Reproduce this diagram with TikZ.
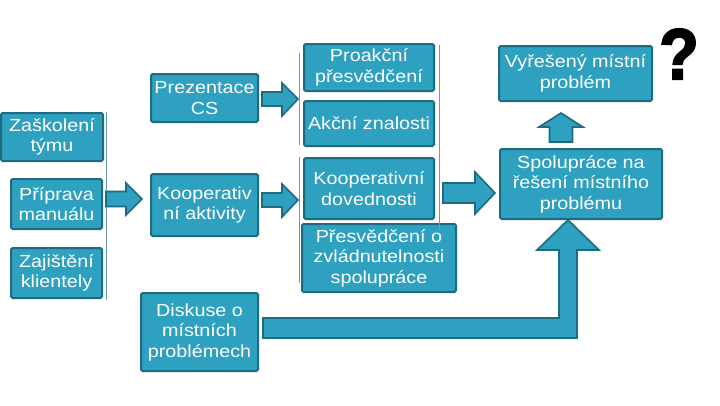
\documentclass[tikz,border=0pt]{standalone}
\usepackage{fontspec}
\setmainfont{Liberation Sans}[FakeStretch=1.13]
\newfontfamily\qfont{Liberation Sans Bold}[FakeBold=2.5,FakeStretch=0.9]
\definecolor{boxfill}{HTML}{2EA0C0}
\definecolor{boxline}{HTML}{1E6A80}
\definecolor{thinline}{HTML}{6B9AA8}
\tikzset{
  bx/.style={draw=boxline, fill=boxfill, line width=2pt, rounded corners=1.5pt,
    text=white, align=center, inner sep=0pt,
    font=\fontsize{17.5}{20.5}\selectfont},
  blockarrow/.style={draw=boxline, fill=boxfill, line width=1.6pt, line join=miter},
  sep/.style={draw=thinline, line width=0.8pt}
}
\begin{document}
\begin{tikzpicture}[x=1pt,y=-1pt]
\useasboundingbox (0,0) rectangle (720,405);
\fill[white] (0,0) rectangle (720,405);
% boxes
\node[bx, minimum width=102pt, minimum height=48pt] (zas) at (52,137) {Zaškolení\\týmu};
\node[bx, minimum width=91pt, minimum height=50pt] (pri) at (56.5,204) {Příprava\\manuálu};
\node[bx, minimum width=91pt, minimum height=50pt] (zaj) at (56.5,273) {Zajištění\\klientely};
\node[bx, minimum width=107pt, minimum height=48pt] (prez) at (204.5,98) {Prezentace\\CS};
\node[bx, minimum width=107pt, minimum height=62pt] (kooa) at (204.5,205) {Kooperativ\\ní aktivity};
\node[bx, minimum width=117pt, minimum height=78pt] (disk) at (199.5,332) {Diskuse o\\místních\\problémech};
\node[bx, minimum width=130pt, minimum height=47pt] (proak) at (369,67.5) {Proakční\\přesvědčení};
\node[bx, minimum width=130pt, minimum height=45pt] (akc) at (369,123.5) {Akční znalosti};
\node[bx, minimum width=130pt, minimum height=61pt] (kood) at (369,188.5) {Kooperativní\\dovednosti};
\node[bx, minimum width=154pt, minimum height=68pt] (pres) at (379,258) {Přesvědčení o\\zvládnutelnosti\\spolupráce};
\node[bx, minimum width=153pt, minimum height=55pt] (vyr) at (575.5,73.5) {Vyřešený místní\\problém};
\node[bx, minimum width=162pt, minimum height=70pt] (spol) at (581,184) {Spolupráce na\\řešení místního\\problému};
% question mark
\node[inner sep=0pt, font=\qfont\fontsize{72}{72}\selectfont] (q) at (679,54) {?};
% thin separator lines
\coordinate (l1a) at (106,112); \coordinate (l1b) at (106,300);
\coordinate (l2a) at (299,53);  \coordinate (l2b) at (299,145);
\coordinate (l3a) at (299,157); \coordinate (l3b) at (299,283);
\coordinate (l4a) at (439,45);  \coordinate (l4b) at (439,230);
\draw[sep] (l1a) -- (l1b);
\draw[sep] (l2a) -- (l2b);
\draw[sep] (l3a) -- (l3b);
\draw[sep] (l4a) -- (l4b);
% block arrows (right)
\draw[blockarrow] (106,191.5) -- (126,191.5) -- (126,183) -- (142,199) -- (126,215) -- (126,206.5) -- (106,206.5) -- cycle;
\draw[blockarrow] (262,92) -- (282,92) -- (282,83) -- (298,99) -- (282,116) -- (282,106) -- (262,106) -- cycle;
\draw[blockarrow] (262,193) -- (282,193) -- (282,184) -- (298,200) -- (282,217) -- (282,207) -- (262,207) -- cycle;
\draw[blockarrow] (443,183) -- (475,183) -- (475,172) -- (495,193) -- (475,214) -- (475,203) -- (443,203) -- cycle;
% up arrow
\draw[blockarrow] (549.5,142) -- (549.5,127) -- (539,127) -- (561,113) -- (583,127) -- (572.5,127) -- (572.5,142) -- cycle;
% bent arrow from Diskuse to Spolupráce
\draw[blockarrow] (263,318) -- (559,318) -- (559,250) -- (537,250) -- (568,220) -- (599,250) -- (577,250) -- (577,338) -- (263,338) -- cycle;
\end{tikzpicture}
\end{document}
